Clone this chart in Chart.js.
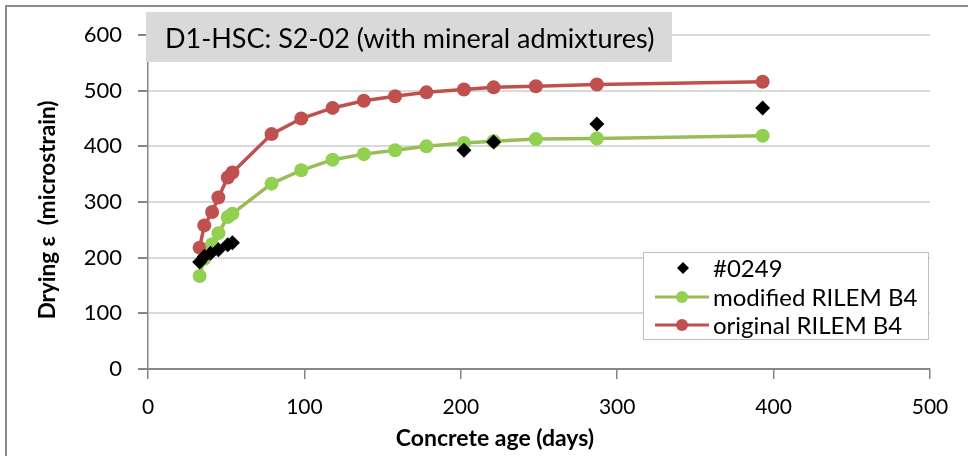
<!DOCTYPE html>
<html>
<head>
<meta charset="utf-8">
<script src="https://cdn.jsdelivr.net/npm/chart.js@4.4.1/dist/chart.umd.min.js"></script>
<style>
  html, body { margin: 0; padding: 0; background: #fff; }
  #wrap { width: 968px; height: 456px; position: relative; }
</style>
</head>
<body>
<div id="wrap"><canvas id="chart" width="968" height="456"></canvas></div>
<script>
// measured data (#0249)
const measuredDays = [33, 36, 40, 45, 51, 54, 202, 221, 287, 393];
const measuredStrain = [192, 202, 208, 214, 223, 227, 393, 408, 440, 469];

// model curves share the same ages
const modelDays = [33, 36, 41, 45, 51, 54, 79, 98, 118, 138, 158, 178, 202, 221, 248, 287, 393];
const modifiedB4 = [167, 198, 224, 244, 273, 279, 333, 357, 376, 386, 393, 400, 406, 409, 413, 414, 419];
const originalB4 = [218, 258, 282, 308, 344, 353, 422, 450, 469, 482, 490, 497, 502, 506, 508, 511, 516];

const xTicks = [0, 100, 200, 300, 400, 500];
const yTicks = [0, 100, 200, 300, 400, 500, 600];

const FONT = 'Lato, "Open Sans", sans-serif';
const RED = '#C0504D';
const GREEN_LINE = '#9BBB59';
const GREEN_DOT = '#92D050';
const AXIS = '#868686';

function toPoints(xs, ys) {
  return xs.map((x, i) => ({ x: x, y: ys[i] }));
}

// outer frame, title box, axis titles and legend are drawn by hand
const decorations = {
  id: 'decorations',
  beforeDraw(chart) {
    const ctx = chart.ctx;
    ctx.save();
    ctx.strokeStyle = '#8c8c8c';
    ctx.lineWidth = 2;
    ctx.beginPath();
    ctx.moveTo(6, 456);
    ctx.lineTo(6, 6);
    ctx.lineTo(968, 6);
    ctx.stroke();
    ctx.restore();
  },
  afterDraw(chart) {
    const ctx = chart.ctx;
    ctx.save();
    // title box
    ctx.fillStyle = '#d9d9d9';
    ctx.fillRect(146, 12, 526, 50);
    ctx.fillStyle = '#000';
    ctx.font = '27px ' + FONT;
    ctx.textBaseline = 'middle';
    ctx.textAlign = 'left';
    ctx.fillText('D1-HSC: S2-02 (with mineral admixtures)', 165, 39);

    // axis titles
    ctx.font = 'bold 23px ' + FONT;
    ctx.textAlign = 'center';
    ctx.fillText('Concrete age (days)', 495, 439);
    ctx.save();
    ctx.translate(48, 210);
    ctx.rotate(-Math.PI / 2);
    ctx.font = 'bold 22.5px ' + FONT;
    ctx.fillText('Drying ε  (microstrain)', 0, 0);
    ctx.restore();

    // legend
    const lx = 643, ly = 252, lw = 285, lh = 87;
    ctx.fillStyle = '#fff';
    ctx.fillRect(lx, ly, lw, lh);
    ctx.strokeStyle = '#bfbfbf';
    ctx.lineWidth = 1;
    ctx.strokeRect(lx + 0.5, ly + 0.5, lw, lh);

    ctx.font = '24px ' + FONT;
    ctx.textAlign = 'left';
    const rows = [268, 297, 325];
    // diamond
    ctx.fillStyle = '#000';
    ctx.beginPath();
    ctx.moveTo(683, rows[0] - 6);
    ctx.lineTo(689, rows[0]);
    ctx.lineTo(683, rows[0] + 6);
    ctx.lineTo(677, rows[0]);
    ctx.closePath();
    ctx.fill();
    ctx.fillText('#0249', 713, rows[0] + 1);
    // lines with dots
    [[GREEN_LINE, GREEN_DOT, 'modified RILEM B4', rows[1]],
     [RED, RED, 'original RILEM B4', rows[2]]].forEach(([lc, dc, txt, y]) => {
      ctx.strokeStyle = lc;
      ctx.lineWidth = 3;
      ctx.beginPath();
      ctx.moveTo(655, y);
      ctx.lineTo(709, y);
      ctx.stroke();
      ctx.fillStyle = dc;
      ctx.beginPath();
      ctx.arc(682, y, 6, 0, Math.PI * 2);
      ctx.fill();
      ctx.fillStyle = '#000';
      ctx.fillText(txt, 713, y + 1);
    });
    ctx.restore();
  }
};

new Chart(document.getElementById('chart'), {
  type: 'scatter',
  data: {
    datasets: [
      {
        label: '#0249',
        data: toPoints(measuredDays, measuredStrain),
        pointStyle: 'rectRot',
        pointRadius: 7.5,
        backgroundColor: '#000',
        borderColor: '#000',
        borderWidth: 0,
        showLine: false
      },
      {
        label: 'modified RILEM B4',
        data: toPoints(modelDays, modifiedB4),
        showLine: true,
        borderColor: GREEN_LINE,
        borderWidth: 3.5,
        pointRadius: 7,
        pointBackgroundColor: GREEN_DOT,
        pointBorderColor: GREEN_DOT,
        pointBorderWidth: 0
      },
      {
        label: 'original RILEM B4',
        data: toPoints(modelDays, originalB4),
        showLine: true,
        borderColor: RED,
        borderWidth: 3.5,
        pointRadius: 7,
        pointBackgroundColor: RED,
        pointBorderColor: RED,
        pointBorderWidth: 0
      }
    ]
  },
  options: {
    responsive: false,
    animation: false,
    layout: { padding: { top: 35, right: 38, left: 0, bottom: 0 } },
    plugins: {
      legend: { display: false },
      tooltip: { enabled: false }
    },
    scales: {
      x: {
        type: 'linear',
        min: 0,
        max: 500,
        afterBuildTicks: (scale) => { scale.ticks = xTicks.map(v => ({ value: v })); },
        afterFit: (scale) => { scale.height = 87; },
        border: { color: AXIS, width: 1.5 },
        grid: { drawOnChartArea: false, drawTicks: true, tickLength: 10, color: AXIS, lineWidth: 1.5 },
        ticks: { color: '#000', font: { family: FONT, size: 21 }, padding: 16, maxRotation: 0 }
      },
      y: {
        type: 'linear',
        min: 0,
        max: 600,
        afterBuildTicks: (scale) => { scale.ticks = yTicks.map(v => ({ value: v })); },
        afterFit: (scale) => { scale.width = 148; },
        border: { color: AXIS, width: 1.5 },
        grid: {
          color: (c) => c.tick && c.tick.value === 0 ? AXIS : '#d9d9d9',
          lineWidth: 2,
          drawTicks: true,
          tickLength: 10,
          tickColor: AXIS
        },
        ticks: { color: '#000', font: { family: FONT, size: 22 }, padding: 16 }
      }
    }
  },
  plugins: [decorations]
});
</script>
</body>
</html>
